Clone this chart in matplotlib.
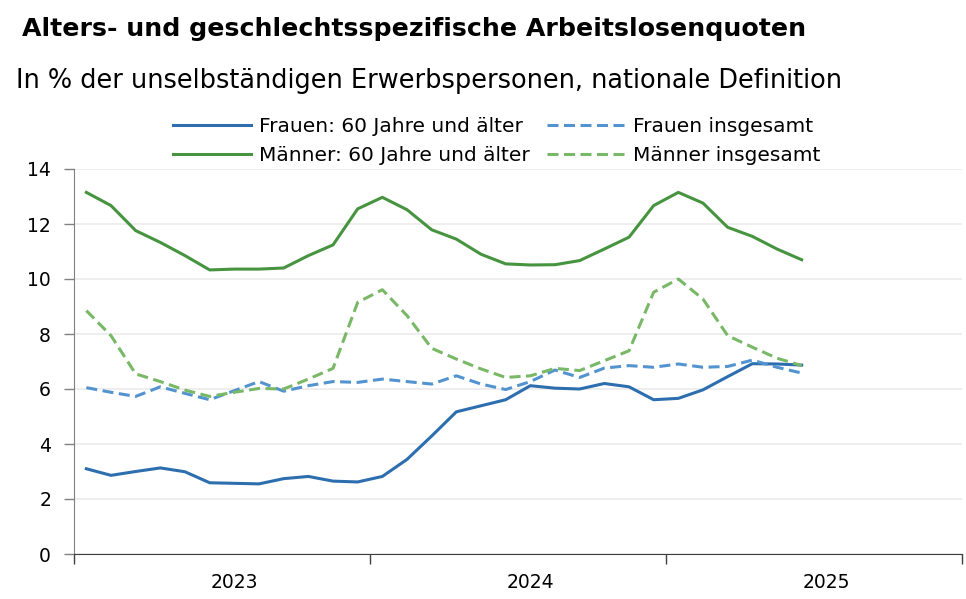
import matplotlib
matplotlib.use("Agg")
import matplotlib.pyplot as plt
import numpy as np

# Monatswerte Jan 2023 - Jun 2025
frauen_60 = [3.10, 2.86, 3.00, 3.13, 2.99, 2.59, 2.57, 2.55, 2.74, 2.82,
             2.65, 2.62, 2.82, 3.44, 4.29, 5.17, 5.39, 5.61, 6.12, 6.03,
             6.00, 6.20, 6.08, 5.61, 5.66, 5.97, 6.45, 6.92, 6.91, 6.87]
maenner_60 = [13.15, 12.67, 11.76, 11.33, 10.85, 10.33, 10.36, 10.36, 10.40, 10.85,
              11.24, 12.55, 12.97, 12.52, 11.79, 11.45, 10.90, 10.55, 10.51, 10.52,
              10.67, 11.09, 11.52, 12.67, 13.15, 12.76, 11.88, 11.55, 11.09, 10.70]
frauen_ges = [6.05, 5.88, 5.73, 6.08, 5.84, 5.61, 5.94, 6.27, 5.92, 6.12,
              6.27, 6.24, 6.36, 6.27, 6.18, 6.48, 6.18, 5.98, 6.27, 6.69,
              6.42, 6.76, 6.85, 6.79, 6.91, 6.79, 6.82, 7.05, 6.79, 6.58]
maenner_ges = [8.85, 7.94, 6.55, 6.27, 5.96, 5.73, 5.88, 6.02, 6.00, 6.36,
               6.75, 9.15, 9.61, 8.67, 7.48, 7.09, 6.73, 6.42, 6.48, 6.75,
               6.67, 7.03, 7.39, 9.52, 10.00, 9.27, 7.94, 7.52, 7.12, 6.85]
jahre = ["2023", "2024", "2025"]

labels = ["Frauen: 60 Jahre und älter", "Männer: 60 Jahre und älter",
          "Frauen insgesamt", "Männer insgesamt"]

plt.rcParams["font.family"] = ["DejaVu Sans"]

W, H = 966, 599
fig = plt.figure(figsize=(W / 100, H / 100), dpi=100)
ax = fig.add_axes([74 / W, 1 - 554 / H, (962 - 74) / W, (554 - 169) / H])

x = np.arange(len(frauen_60)) + 0.5
lw = 2.2
h1, = ax.plot(x, frauen_60, color="#2D6EAF", lw=lw)
h2, = ax.plot(x, maenner_60, color="#479440", lw=lw)
h3, = ax.plot(x, frauen_ges, color="#5394D0", lw=lw, dashes=(3.6, 1.8))
h4, = ax.plot(x, maenner_ges, color="#78B866", lw=lw, dashes=(3.6, 1.8))

ax.set_xlim(0, 36)
ax.set_ylim(0, 14)
ax.set_yticks(range(0, 15, 2))
ax.grid(axis="y", color="#EBEBEB", lw=1.2)
ax.set_axisbelow(True)

ax.set_xticks([0, 12, 24, 36])
ax.set_xticklabels([])
ax.set_xticks([6.5, 18.5, 30.5], minor=True)
ax.set_xticklabels(jahre, minor=True)
ax.tick_params(axis="x", which="major", length=7, color="#404040", width=1)
ax.tick_params(axis="x", which="minor", length=0, pad=14, labelsize=13.5)
ax.tick_params(axis="y", length=7, color="#808080", width=1, pad=9.5, labelsize=13.5)

for s in ["top", "right"]:
    ax.spines[s].set_visible(False)
ax.spines["left"].set_color("#808080")
ax.spines["bottom"].set_color("#404040")

fig.text(22 / W, 1 - 29 / H, "Alters- und geschlechtsspezifische Arbeitslosenquoten",
         fontsize=18.2, fontweight="bold", va="center", ha="left")
fig.text(16 / W, 1 - 81 / H, "In % der unselbständigen Erwerbspersonen, nationale Definition",
         fontsize=18.45, va="center", ha="left")

leg_kw = dict(loc="center left", frameon=False, fontsize=14.5, handlelength=3.85,
              handletextpad=0.4, labelspacing=0.52, borderpad=0, borderaxespad=0)
leg1 = fig.legend([h1, h2], labels[:2], bbox_to_anchor=(173 / W, 1 - 141 / H), **leg_kw)
leg2 = fig.legend([h3, h4], labels[2:], bbox_to_anchor=(547 / W, 1 - 141 / H), **leg_kw)

fig.savefig("out.png", dpi=100)
